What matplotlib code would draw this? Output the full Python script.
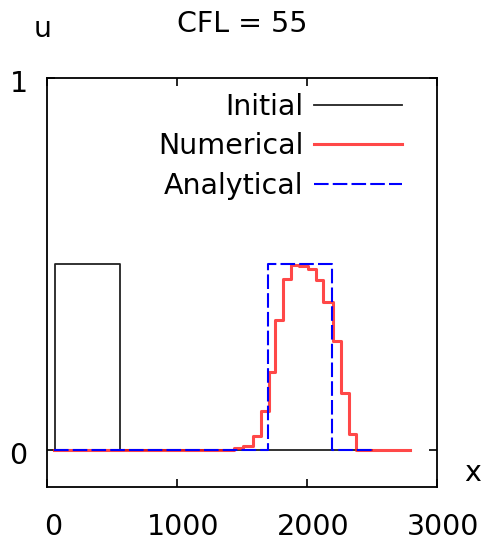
import numpy as np
import matplotlib.pyplot as plt
import matplotlib.transforms as mtransforms

plt.rcParams['font.family'] = ['DejaVu Sans']

# initial condition (square pulse)
init_edges = [50, 60, 560, 2500]
init_vals = [0.0, 0.5, 0.0]

# numerical solution (piecewise constant cells)
num_edges = [50, 1440, 1507, 1583, 1647, 1705, 1750, 1814, 1878, 1940,
             2005, 2070, 2126, 2197, 2262, 2320, 2377, 2790]
num_vals = [0.0, 0.004, 0.011, 0.038, 0.105, 0.208, 0.348, 0.46, 0.497,
            0.495, 0.487, 0.458, 0.397, 0.294, 0.154, 0.042, 0.0]

# analytical solution (shifted pulse)
ana_edges = [50, 1700, 2195, 2500]
ana_vals = [0.0, 0.5, 0.0]

xticks = [0, 1000, 2000, 3000]
yticks = [0, 1]

W, H = 483, 542
fs = 20.5
fig = plt.figure(figsize=(W / 100, H / 100), dpi=100)
ax = fig.add_axes([47 / W, 1 - 487 / H, 390 / W, 409 / H])

ax.step(init_edges, init_vals + [init_vals[-1]], where='post',
        color='#222222', lw=1.3, label='Initial')
ax.step(num_edges, num_vals + [num_vals[-1]], where='post',
        color='#ff1a1a', lw=2.2, alpha=0.8, label='Numerical')
ax.step(ana_edges, ana_vals + [ana_vals[-1]], where='post',
        color='#0000ff', lw=1.5, dashes=(7, 2), label='Analytical')

ax.set_xlim(0, 3000)
ax.set_ylim(-0.1, 1)
ax.set_xticks(xticks)
ax.set_yticks(yticks)
ax.tick_params(direction='in', length=6, width=1.2, top=True, right=True,
               labelsize=fs)
ax.tick_params(axis='x', pad=19)
ax.tick_params(axis='y', pad=14)
for sp in ax.spines.values():
    sp.set_linewidth(1.3)

# gnuplot-like label offsets
dx = mtransforms.ScaledTranslation(6 / 100, 0, fig.dpi_scale_trans)
for lab in ax.get_xticklabels():
    lab.set_transform(lab.get_transform() + dx)
dy = mtransforms.ScaledTranslation(0, -3 / 100, fig.dpi_scale_trans)
for lab in ax.get_yticklabels():
    lab.set_transform(lab.get_transform() + dy)

leg = ax.legend(loc='upper right', bbox_to_anchor=(402 / W, 1 - 93 / H),
                bbox_transform=fig.transFigure, frameon=False, markerfirst=False,
                fontsize=fs, handlelength=3.1, handletextpad=0.35,
                labelspacing=0.4, borderpad=0, borderaxespad=0)

fig.text(242 / W, 1 - 32 / H, 'CFL = 55', fontsize=fs, ha='center', va='baseline')
fig.text(43 / W, 1 - 37 / H, 'u', fontsize=fs, ha='center', va='baseline')
fig.text(481 / W, 1 - 473 / H, 'x', fontsize=fs, ha='right', va='center')

fig.savefig('out.png', dpi=100)
